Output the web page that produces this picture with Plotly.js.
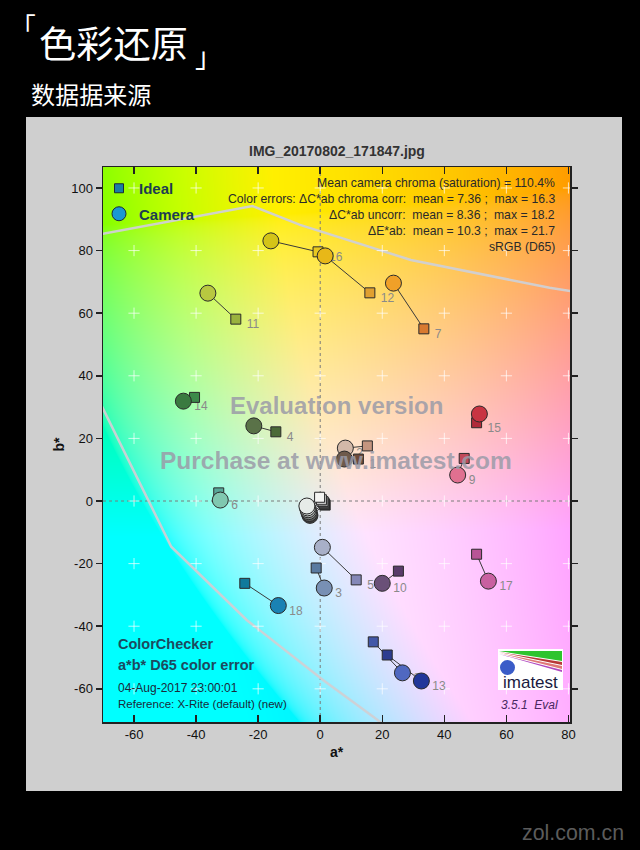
<!DOCTYPE html>
<html><head><meta charset="utf-8">
<script src="https://cdn.plot.ly/plotly-3.0.1.min.js"></script>
<style>
html,body{margin:0;padding:0;background:#000;width:640px;height:850px;overflow:hidden;}
#panel{position:absolute;left:26px;top:117px;width:596px;height:674px;background:#cfcfcf;}
#chart{position:absolute;left:0;top:0;width:640px;height:850px;}
#over{position:absolute;left:0;top:0;}
</style></head><body>
<div id="panel"></div>
<div id="chart"></div>
<svg id="over" width="640" height="850" xmlns="http://www.w3.org/2000/svg">
  <text id="tLB" fill="#fff" font-family="Noto Sans CJK SC">「</text>
  <text id="tMain" fill="#fff" font-family="Noto Sans CJK SC">色彩还原</text>
  <text id="tRB" fill="#fff" font-family="Noto Sans CJK SC">」</text>
  <text id="tSub" fill="#fff" font-family="Noto Sans CJK SC">数据据来源</text>
  <text id="tZol" fill="#5c5c5c" font-family="Arial, 'Liberation Sans', sans-serif">zol.com.cn</text>
</svg>
<script>
// ---------------- data ----------------
const xTicks = [-60, -40, -20, 0, 20, 40, 60, 80];
const yTicks = [-60, -40, -20, 0, 20, 40, 60, 80, 100];

const patchLabels = ['1','2','3','4','5','6','7','8','9','10','11','12','13','14','15','16','17','18','','','','','',''];
const idealA  = [12.3, 15.2, -1.3, -14.3, 11.6, -32.7, 33.4, 17.1, 46.4, 25.2, -27.2, 16.0, 21.6, -40.5, 50.4, -0.7, 50.4, -24.3, -0.2, 0.4, 0.9, 1.2, 1.4, 1.6];
const idealB  = [13.4, 17.6, -21.4, 22.1, -25.2, 2.6, 55.0, -45.0, 13.6, -22.4, 58.1, 66.5, -49.2, 33.1, 25.0, 79.6, -17.0, -26.3, 1.2, 0.4, -0.2, -0.6, -1.0, -1.3];
const cameraA = [7.8, 8.1, 1.3, -21.4, 0.7, -32.2, 23.6, 26.5, 44.3, 20.0, -36.2, 1.6, 32.6, -44.1, 51.3, -15.9, 54.2, -13.5, -4.3, -4.1, -3.9, -3.7, -3.5, -3.3];
const cameraB = [13.4, 16.9, -27.8, 24.0, -14.8, 0.3, 69.6, -54.9, 8.3, -26.3, 66.4, 78.3, -57.5, 31.9, 27.8, 83.1, -25.6, -33.4, -1.6, -2.2, -2.8, -3.4, -4.0, -4.6];
const idealColors  = ['#6e4a3a','#c4957f','#5a7aa0','#4b6a38','#8488b8','#5aa89a','#d87a30','#4258a8','#c04a5a','#5a3c6a','#9ab23e','#e0a030','#2c3c90','#3c8a4a','#b02a3a','#e8c820','#b85496','#107a9c','#f4f4f2','#c8c8c8','#a0a0a0','#7a7a7a','#555555','#333333'];
const cameraColors = ['#6e5a4c','#d2b8a8','#7890b4','#5a7248','#a8b0c8','#80c8b0','#f0a028','#5068c0','#e07090','#6a5078','#b8c840','#e8b818','#22369a','#3a7a40','#c83442','#d4c418','#c860a0','#1a82b4','#e6ebe8','#ced3d0','#adb2af','#888c8a','#5f625f','#3c3e3c'];

// sRGB gamut boundary (gray curve)
const gamutTopA  = [-72, -21.8, -6.5, 29.2, 73.9, 82];
const gamutTopB  = [85.0, 94.2, 88.2, 77.0, 68.1, 66.9];
const gamutLeftA = [-72, -48.0, -23.7, 0.9, 17.2, 20.5];
const gamutLeftB = [33.5, -14.6, -38.0, -57.2, -69.0, -71.5];

const statLines = [
  'Mean camera chroma (saturation) = 110.4%',
  'Color errors: \u0394C*ab chroma corr:  mean = 7.36 ;  max = 16.3',
  '\u0394C*ab uncorr:  mean = 8.36 ;  max = 18.2',
  '\u0394E*ab:  mean = 10.3 ;  max = 21.7',
  'sRGB (D65)'
];

// ---------------- geometry ----------------
const plotL = 103, plotR = 570, plotT = 167, plotB = 722;
const xRange = [-70, 80.5], yRange = [-70.6, 106.7];
const pw = plotR - plotL, ph = plotB - plotT;
const ppx = pw / (xRange[1] - xRange[0]), ppy = ph / (yRange[1] - yRange[0]);
const px = x => (x - plotL) / pw, py = y => (plotB - y) / ph;
const FONT = 'Arial, "Liberation Sans", sans-serif';

// ---------------- background a*b* colour map ----------------
function labToRgb(L, a, b) {
  const fy = (L + 16) / 116, fx = fy + a / 500, fz = fy - b / 200;
  const f = t => t > 6/29 ? t*t*t : 3*(6/29)*(6/29)*(t - 4/29);
  const X = 0.95047 * f(fx), Y = f(fy), Z = 1.08883 * f(fz);
  const r = 3.2406*X - 1.5372*Y - 0.4986*Z;
  const g = -0.9689*X + 1.8758*Y + 0.0415*Z;
  const bl = 0.0557*X - 0.2040*Y + 1.0570*Z;
  const gam = c => { c = Math.min(1, Math.max(0, c)); return c <= 0.0031308 ? 12.92*c : 1.055*Math.pow(c, 1/2.4) - 0.055; };
  return [gam(r)*255, gam(g)*255, gam(bl)*255];
}
const cv = document.createElement('canvas');
cv.width = pw; cv.height = ph;
const cx = cv.getContext('2d');
const img = cx.createImageData(pw, ph);
for (let j = 0; j < ph; j++) {
  const bv = yRange[1] - (j + 0.5) / ppy;
  for (let i = 0; i < pw; i++) {
    const av = xRange[0] + (i + 0.5) / ppx;
    const c = labToRgb(93, av, bv);
    const k = (j * pw + i) * 4;
    img.data[k] = c[0]; img.data[k+1] = c[1]; img.data[k+2] = c[2]; img.data[k+3] = 255;
  }
}
cx.putImageData(img, 0, 0);

// ---------------- traces ----------------
const order = idealA.map((_, i) => idealA.length - 1 - i); // draw patch 1 last
const pick = (arr) => order.map(i => arr[i]);

const crossX = [], crossY = [];
xTicks.forEach(x => yTicks.forEach(y => { crossX.push(x); crossY.push(y); }));

const linkX = [], linkY = [];
idealA.forEach((a, i) => { linkX.push(a, cameraA[i], null); linkY.push(idealB[i], cameraB[i], null); });

const lowA = idealA.map((a, i) => idealB[i] <= cameraB[i] ? a : cameraA[i]);
const lowB = idealB.map((b, i) => b <= cameraB[i] ? b : cameraB[i]);

const traces = [
  {x: [0, 0, null, xRange[0], xRange[1]], y: [yRange[0], yRange[1], null, 0, 0], mode: 'lines', line: {color: '#7a7a7a', width: 1, dash: '3px,3px'}, hoverinfo: 'skip', showlegend: false},
  {x: gamutTopA, y: gamutTopB, mode: 'lines', line: {color: 'rgba(208,208,212,0.95)', width: 2.5}, hoverinfo: 'skip', showlegend: false},
  {x: gamutLeftA, y: gamutLeftB, mode: 'lines', line: {color: 'rgba(208,208,212,0.95)', width: 2.5}, hoverinfo: 'skip', showlegend: false},
  {x: crossX, y: crossY, mode: 'markers', marker: {symbol: 'cross-thin-open', size: 8, color: 'rgba(255,255,255,0.7)', line: {color: 'rgba(255,255,255,0.7)', width: 1}}, hoverinfo: 'skip', showlegend: false},
  {x: linkX, y: linkY, mode: 'lines', line: {color: '#3a3a3a', width: 1}, hoverinfo: 'skip', showlegend: false},
  {x: lowA.map(a => a + 11 / ppx), y: lowB.map(b => b - 6 / ppy), mode: 'text', text: patchLabels, textposition: 'middle right',
   textfont: {family: FONT, size: 12, color: '#8a8a8a'}, hoverinfo: 'skip', showlegend: false},
  {x: pick(idealA), y: pick(idealB), mode: 'markers', name: 'Ideal', showlegend: false,
   marker: {symbol: 'square', size: 10, color: pick(idealColors), line: {color: '#2a2a2a', width: 1}}},
  {x: pick(cameraA), y: pick(cameraB), mode: 'markers', name: 'Camera', showlegend: false,
   marker: {symbol: 'circle', size: 16, color: pick(cameraColors), line: {color: '#2a2a2a', width: 1}}},
  {x: [null], y: [null], mode: 'markers', name: 'Ideal', legendgroup: 'g1',
   marker: {symbol: 'square', size: 9, color: '#1a7ea6', line: {color: '#1a2a3a', width: 1}}},
  {x: [null], y: [null], mode: 'markers', name: 'Camera', legendgroup: 'g2',
   marker: {symbol: 'circle', size: 14, color: '#1a98d0', line: {color: '#1a2a3a', width: 1}}}
];

// ---------------- annotations ----------------
const ann = [];
ann.push({text: 'IMG_20170802_171847.jpg', xref: 'paper', yref: 'paper', x: 0.5, y: py(151), xanchor: 'center', yanchor: 'middle', showarrow: false,
  font: {family: FONT, size: 14, color: '#333', weight: 'bold'}});
const statY = [183, 199, 215, 231, 247];
statLines.forEach((t, i) => ann.push({text: t, xref: 'paper', yref: 'paper', x: px(557), y: py(statY[i]), xanchor: 'right', yanchor: 'middle', showarrow: false,
  font: {family: FONT, size: 12.2, color: '#2a2a2a'}}));
ann.push({text: 'Evaluation version', xref: 'paper', yref: 'paper', x: px(336), y: py(405), xanchor: 'center', yanchor: 'middle', showarrow: false,
  font: {family: FONT, size: 24, color: 'rgba(155,155,168,0.85)', weight: 'bold'}});
ann.push({text: 'Purchase at www.imatest.com', xref: 'paper', yref: 'paper', x: px(336), y: py(461), xanchor: 'center', yanchor: 'middle', showarrow: false,
  font: {family: FONT, size: 24.5, color: 'rgba(155,155,168,0.85)', weight: 'bold'}});
const blText = [['ColorChecker', 644, 14.5, 'bold'], ['a*b* D65 color error', 665, 14.5, 'bold'], ['04-Aug-2017 23:00:01', 688, 12, 'normal'], ['Reference: X-Rite (default) (new)', 704, 11.5, 'normal']];
blText.forEach(r => ann.push({text: r[0], xref: 'paper', yref: 'paper', x: px(116), y: py(r[1]), xanchor: 'left', yanchor: 'middle', showarrow: false,
  font: {family: FONT, size: r[2], color: r[3] === 'bold' ? '#1d4a5e' : '#1a2a3a', weight: r[3]}}));
ann.push({text: 'imatest', xref: 'paper', yref: 'paper', x: px(530), y: py(682), xanchor: 'center', yanchor: 'middle', showarrow: false,
  font: {family: FONT, size: 17, color: '#1a1a40'}});
ann.push({text: '<i>3.5.1  Eval</i>', xref: 'paper', yref: 'paper', x: px(529), y: py(705), xanchor: 'center', yanchor: 'middle', showarrow: false,
  font: {family: FONT, size: 12, color: '#4a2860'}});

// ---------------- shapes (imatest logo) ----------------
const P = (x, y) => px(x).toFixed(5) + ',' + py(y).toFixed(5);
const shapes = [
  {type: 'rect', xref: 'paper', yref: 'paper', x0: px(498), x1: px(563), y0: py(690), y1: py(649), fillcolor: '#ffffff', line: {width: 0}},
  {type: 'path', xref: 'paper', yref: 'paper', path: 'M' + P(499,651) + 'L' + P(562,651) + 'L' + P(562,661) + 'Z', fillcolor: '#2ec42e', line: {width: 0}},
  {type: 'path', xref: 'paper', yref: 'paper', path: 'M' + P(499,652) + 'L' + P(562,662) + 'L' + P(562,665) + 'Z', fillcolor: '#b83838', line: {width: 0}},
  {type: 'path', xref: 'paper', yref: 'paper', path: 'M' + P(499,653) + 'L' + P(562,666) + 'L' + P(562,669) + 'Z', fillcolor: '#e07878', line: {width: 0}},
  {type: 'path', xref: 'paper', yref: 'paper', path: 'M' + P(499,654) + 'L' + P(562,670) + 'L' + P(562,672) + 'Z', fillcolor: '#b048c0', line: {width: 0}},
  {type: 'circle', xref: 'paper', yref: 'paper', x0: px(500), x1: px(515), y0: py(675), y1: py(660), fillcolor: '#3a5cc8', line: {width: 0}}
];

const layout = {
  width: 640, height: 850,
  margin: {l: plotL, r: 640 - plotR, t: plotT, b: 850 - plotB, pad: 0},
  paper_bgcolor: 'rgba(0,0,0,0)', plot_bgcolor: 'rgba(0,0,0,0)',
  font: {family: FONT, color: '#111'},
  xaxis: {range: xRange, tickvals: xTicks, ticktext: xTicks.map(String), showgrid: false, zeroline: false,
    showline: true, linecolor: '#222', linewidth: 1.5, mirror: 'ticks', ticks: 'inside', ticklen: 7, tickwidth: 1.5, tickcolor: '#222',
    tickfont: {family: FONT, size: 13, color: '#111'},
    title: {text: 'a*', font: {family: FONT, size: 14, color: '#111', weight: 'bold'}, standoff: 6}},
  yaxis: {range: yRange, tickvals: yTicks, ticktext: yTicks.map(String), showgrid: false, zeroline: false,
    showline: true, linecolor: '#222', linewidth: 1.5, mirror: 'ticks', ticks: 'outside', ticklen: 6, tickwidth: 1.5, tickcolor: '#222',
    tickfont: {family: FONT, size: 13, color: '#111'},
    title: {text: 'b*', font: {family: FONT, size: 14, color: '#111', weight: 'bold'}, standoff: 3}},
  showlegend: true,
  legend: {x: px(99), xanchor: 'left', y: py(172), yanchor: 'top', bgcolor: 'rgba(0,0,0,0)', borderwidth: 0,
    font: {family: FONT, size: 15, color: '#1d3d52', weight: 'bold'}, traceorder: 'grouped', tracegroupgap: 3, itemsizing: 'trace'},
  images: [{source: cv.toDataURL(), xref: 'x', yref: 'y', x: xRange[0], y: yRange[1], sizex: xRange[1] - xRange[0], sizey: yRange[1] - yRange[0],
    sizing: 'stretch', xanchor: 'left', yanchor: 'top', layer: 'below'}],
  annotations: ann,
  shapes: shapes
};

Plotly.newPlot('chart', traces, layout, {staticPlot: true, displayModeBar: false});

// ---------------- heading texts (placed by ink box) ----------------
function place(id, family, weight, opts) {
  const el = document.getElementById(id);
  const str = el.textContent;
  const ctx = document.createElement('canvas').getContext('2d');
  ctx.font = weight + ' 100px ' + family;
  const m = ctx.measureText(str);
  let fs;
  if (opts.w) fs = 100 * opts.w / (m.actualBoundingBoxLeft + m.actualBoundingBoxRight);
  else fs = 100 * opts.h / (m.actualBoundingBoxAscent + m.actualBoundingBoxDescent);
  ctx.font = weight + ' ' + fs + 'px ' + family;
  const m2 = ctx.measureText(str);
  let x, y;
  if (opts.left !== undefined) x = opts.left + m2.actualBoundingBoxLeft; else x = opts.right - m2.actualBoundingBoxRight;
  if (opts.top !== undefined) y = opts.top + m2.actualBoundingBoxAscent; else y = opts.bottom - m2.actualBoundingBoxDescent;
  el.setAttribute('font-size', fs.toFixed(2));
  el.setAttribute('font-weight', weight);
  el.setAttribute('x', x.toFixed(2)); el.setAttribute('y', y.toFixed(2));
}
const CJK = '"Noto Sans CJK SC"';
place('tLB', CJK, 'normal', {h: 17, left: 26, top: 14});
place('tMain', CJK, 'normal', {w: 146, left: 40, top: 25});
place('tRB', CJK, 'normal', {h: 18, right: 205, bottom: 70});
place('tSub', CJK, 'normal', {w: 119, left: 31, top: 83});
place('tZol', 'Arial, "Liberation Sans"', 'normal', {w: 100, left: 522, top: 824});
</script>
</body></html>
